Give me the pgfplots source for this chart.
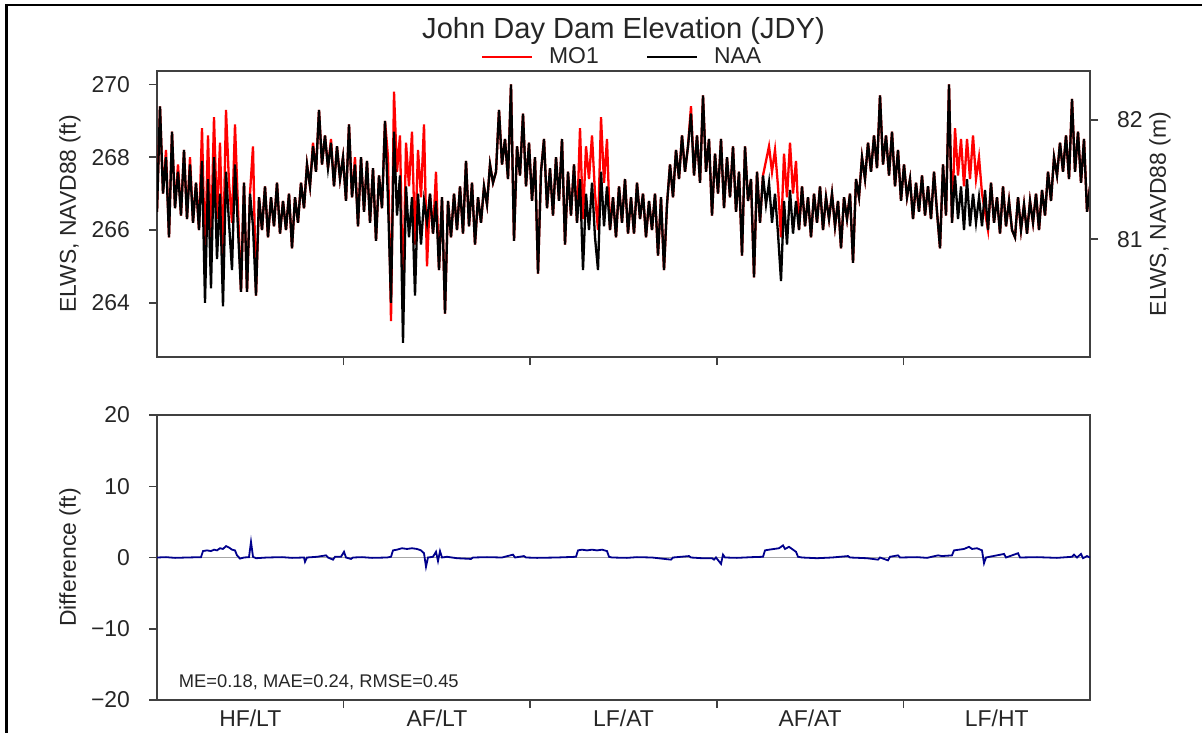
\documentclass[border=0pt]{standalone}
\usepackage{fontspec}
\setmainfont{Liberation Sans}
\usepackage{pgfplots}
\usepackage{pgfplotstable}
\pgfplotsset{compat=1.18}
\definecolor{txt}{RGB}{38,38,38}
\definecolor{axl}{RGB}{64,64,64}
\definecolor{diffc}{RGB}{0,0,140}

\pgfplotstableread{
r naa mo1
0 266.5 266.5
3 269.4 269.4
6 267.0 267.0
9 268.0 268.2
12 265.8 265.8
15 268.7 268.7
18 266.6 266.6
21 267.6 267.8
24 266.4 266.4
27 268.2 268.2
30 266.3 266.3
33 267.8 268.0
36 266.2 266.2
39 267.3 267.3
42 266.0 266.0
45 267.9 268.8
48 264.0 265.2
51 267.4 268.6
54 264.4 265.6
57 268.0 269.1
60 265.2 266.3
63 267.0 268.4
66 263.9 265.1
69 267.6 269.3
72 266.2 267.3
75 264.9 266.2
78 267.8 268.9
81 266.0 266.6
84 264.3 264.3
87 267.3 267.3
90 264.3 264.3
93 267.0 267.0
96 266.1 268.3
99 264.2 264.2
102 266.9 266.9
105 266.0 266.0
108 267.2 267.2
111 265.8 265.8
114 266.9 266.9
117 266.1 266.1
120 267.3 267.3
123 265.9 265.9
126 266.8 266.8
129 266.0 266.0
132 267.0 267.0
135 265.5 265.5
138 266.9 266.9
141 266.2 266.2
144 267.3 267.3
147 266.6 266.6
150 267.8 267.8
153 267.2 267.2
156 268.3 268.4
159 267.6 267.6
162 269.3 269.3
165 267.8 267.8
168 268.6 268.6
171 267.7 267.7
174 268.4 268.5
177 267.2 267.2
180 268.3 268.3
183 267.4 267.4
186 268.0 268.0
189 266.8 266.8
192 268.9 268.9
195 266.9 266.9
198 267.8 268.0
201 266.1 266.1
204 268.0 268.0
207 266.5 266.5
210 267.9 267.9
213 266.2 266.2
216 267.7 267.7
219 265.7 265.7
222 267.5 267.5
225 266.6 266.6
228 269.0 269.0
231 266.8 268.0
234 264.0 263.5
237 268.7 269.8
240 266.4 267.6
243 267.5 268.6
246 262.9 264.0
249 267.2 268.4
252 265.8 267.2
255 266.9 268.7
258 264.2 265.6
261 267.0 268.2
264 265.6 266.9
267 266.8 268.9
270 266.2 265.0
273 267.0 267.0
276 265.9 265.9
279 266.8 267.6
282 264.9 264.9
285 266.9 266.9
288 263.7 263.7
291 266.8 266.8
294 265.8 265.8
297 267.0 267.0
300 266.0 266.0
303 267.2 267.2
306 265.9 265.9
309 267.9 267.9
312 266.1 266.1
315 267.3 267.3
318 265.6 265.6
321 266.9 266.9
324 266.2 266.2
327 267.2 267.2
330 266.7 266.7
333 267.8 267.8
336 267.3 267.3
339 267.6 267.6
342 269.3 269.3
345 267.8 267.8
348 268.5 268.5
351 267.4 267.4
354 270.0 270.0
357 265.7 265.7
360 268.3 268.3
363 267.5 267.5
366 269.2 269.2
369 267.2 267.2
372 268.4 268.4
375 266.8 266.8
378 268.0 268.0
381 264.8 264.8
384 267.6 267.6
387 268.5 268.5
390 266.6 266.6
393 267.7 267.7
396 266.4 266.4
399 268.0 268.0
402 266.8 266.8
405 268.5 268.5
408 265.6 265.6
411 267.6 267.6
414 266.4 266.4
417 267.8 267.8
420 266.2 266.2
423 267.4 268.8
426 264.9 266.3
429 267.0 268.3
432 266.0 267.4
435 267.3 268.6
438 265.8 267.0
441 264.9 266.0
444 267.6 269.1
447 266.1 267.3
450 267.2 268.5
453 266.0 266.0
456 266.9 266.9
459 265.8 265.8
462 267.2 267.2
465 266.2 266.2
468 267.4 267.4
471 265.9 265.9
474 266.9 266.9
477 265.9 265.9
480 267.3 267.3
483 266.3 266.3
486 267.0 267.0
489 265.8 265.8
492 266.8 266.8
495 266.0 266.0
498 267.0 267.0
501 265.3 265.3
504 266.9 266.9
507 264.9 264.9
510 266.7 266.7
513 267.8 267.8
516 266.9 266.9
519 268.2 268.2
522 267.4 267.4
525 268.6 268.6
528 267.6 267.6
531 268.3 268.3
534 269.2 269.4
537 267.5 267.5
540 268.6 268.6
543 267.3 267.3
546 269.7 269.7
549 267.6 267.6
552 268.5 268.5
555 266.4 266.4
558 268.1 268.1
561 267.0 267.0
564 268.5 268.5
567 266.6 266.6
570 268.0 268.0
573 266.9 266.9
576 268.3 268.3
579 266.5 266.5
582 267.6 267.6
585 265.3 265.3
588 268.3 268.3
591 266.8 266.8
594 267.4 267.4
597 264.7 264.7
600 267.6 267.6
603 266.2 266.2
606 267.5 267.5
609 266.7 267.9
612 267.3 268.3
615 266.2 267.6
618 267.0 268.2
621 265.9 267.2
624 264.6 265.8
627 266.8 268.1
630 265.6 266.9
633 267.1 268.4
636 265.9 267.0
639 266.8 267.9
642 266.0 266.0
645 267.2 267.2
648 266.1 266.1
651 266.9 266.9
654 265.8 265.8
657 267.0 267.0
660 266.2 266.2
663 267.2 267.2
666 266.0 266.0
669 266.9 266.9
672 266.3 266.3
675 267.0 267.0
678 266.1 266.1
681 266.8 266.8
684 265.5 265.5
687 266.9 266.9
690 266.3 266.3
693 267.0 267.0
696 265.1 265.1
699 267.4 267.4
702 266.9 266.9
705 268.0 268.0
708 267.4 267.4
711 268.4 268.4
714 267.6 267.6
717 268.6 268.6
720 267.7 267.7
723 269.7 269.7
726 267.8 267.8
729 268.6 268.6
732 267.5 267.5
735 268.7 268.7
738 267.2 267.2
741 268.2 268.2
744 266.8 266.8
747 267.8 267.8
750 266.9 266.9
753 267.4 267.4
756 266.3 266.3
759 267.3 267.3
762 266.5 266.5
765 267.5 267.5
768 266.4 266.4
771 267.2 267.2
774 266.3 266.3
777 267.6 267.6
780 266.5 266.5
783 265.5 265.5
786 267.8 267.8
789 266.4 266.4
792 270.0 270.0
795 266.2 266.2
798 267.5 268.8
801 266.3 267.5
804 267.2 268.5
807 266.0 267.2
810 267.4 268.5
813 266.1 267.4
816 267.0 268.6
819 266.2 267.4
822 266.9 268.0
825 266.1 267.0
828 267.1 266.5
831 266.0 266.0
834 267.3 267.3
837 266.2 266.2
840 266.9 266.9
843 265.9 265.9
846 267.2 267.2
849 266.1 266.1
852 266.8 266.8
855 266.0 266.0
858 265.8 265.8
861 266.9 266.9
864 266.0 266.0
867 266.7 266.7
870 265.9 265.9
873 266.8 266.8
876 266.2 266.2
879 267.0 267.0
882 266.0 266.0
885 267.1 267.1
888 266.4 266.4
891 267.6 267.6
894 266.8 266.8
897 268.0 268.0
900 267.5 267.5
903 268.4 268.4
906 267.6 267.6
909 268.6 268.6
912 267.4 267.4
915 269.6 269.6
918 267.6 267.6
921 268.7 268.7
924 267.3 267.3
927 268.5 268.5
930 266.5 266.5
933 267.2 267.2
}\elev

\pgfplotstableread{
r d
0 0
9 0.05
18 -0.05
30 0
44 0.05
46 0.9
50 1.0
54 0.9
57 1.1
60 1.0
63 1.3
66 1.2
69 1.6
72 1.4
75 1.1
78 1.0
80 0.3
83 -0.15
87 0
92 0.05
94 2.2
96 0.1
99 -0.1
110 0
125 0.05
135 -0.05
147 0
148 -0.6
150 0
160 0.1
169 0.3
171 0
176 -0.3
178 0.1
184 0.1
187 0.8
189 0
194 -0.2
196 0
205 0.05
215 -0.05
230 0
234 0.1
236 1.0
240 1.1
245 1.3
250 1.2
255 1.3
260 1.2
264 1.0
267 0.6
269 -1.3
271 0
276 0.1
279 0.8
281 -0.5
283 0.9
285 0
290 0.1
300 -0.1
314 -0.2
316 0
330 0.05
345 0
356 0.4
358 0
367 0.2
369 0
380 -0.05
400 0
419 0.1
421 1.0
425 1.1
430 1.0
435 1.1
440 1.0
445 1.1
450 0.9
452 0.1
455 0
470 -0.05
480 0.05
495 0
514 -0.3
516 0
532 0.2
534 0
545 -0.1
555 -0.1
557 -0.3
559 0
564 -0.9
566 0.4
568 0
580 -0.05
595 0.05
606 0.1
608 1.0
612 1.1
617 1.2
622 1.3
626 1.7
628 1.2
632 1.5
636 1.1
639 0.8
641 0.1
645 0
660 -0.1
675 0
691 0.2
693 0
710 -0.1
721 -0.3
723 0
731 -0.4
733 0.1
741 0.3
743 0
760 0.05
770 -0.05
781 0.3
785 0.2
795 0.3
797 1.0
802 1.1
807 1.2
812 1.5
815 1.2
820 1.3
825 1.0
827 -0.8
829 0
847 0.5
849 0
861 0.6
863 0
880 0.05
900 -0.05
915 0.1
917 0.4
920 0
924 0.5
926 -0.1
930 0.2
933 0
}\diffdat

\pgfplotsset{
  base/.style={
    scale only axis, width=466.5bp,
    xmin=0, xmax=933,
    axis line style={axl, line width=0.75bp},
    tick style={axl, line width=0.75bp},
    tick align=outside,
    major tick length=4bp,
    tick label style={font=\fontsize{11.5}{13}\selectfont, text=txt},
    label style={font=\fontsize{11.5}{13}\selectfont, text=txt},
    /pgf/number format/assume math mode=true,
  }
}

\begin{document}
\begin{tikzpicture}
\useasboundingbox (0,0) rectangle (601bp,-366.5bp);
\draw[line width=1.3bp,black] (3.25bp,-367bp) -- (3.25bp,-2.5bp) -- (602bp,-2.5bp);

\begin{axis}[base, at={(78.5bp,-35.5bp)}, anchor=north west, height=143bp,
  ymin=262.51, ymax=270.37,
  ytick={264,266,268,270},
  yticklabel style={xshift=-6bp},
  xtick={186.6,373.2,559.8,746.4}, xticklabels={},
  tick pos=left,
  ylabel={ELWS, NAVD88 (ft)},
  ylabel style={at={(axis description cs:-0.0933,0.5)}, anchor=center},
  title={John Day Dam Elevation (JDY)},
  title style={at={(0.5,1)}, anchor=center, yshift=14bp, font=\fontsize{14.6}{16}\selectfont, text=txt},
  legend style={at={(0.5,1)}, anchor=center, yshift=7bp, legend columns=2, draw=none, fill=none,
    font=\fontsize{11.5}{13}\selectfont, text=txt,
    /tikz/every odd column/.append style={column sep=6bp},
    /tikz/every even column/.append style={column sep=22bp}},
  legend image code/.code={\draw[#1,line width=0.7bp] (0bp,0bp) -- (25bp,0bp);},
]
\addplot[red, line width=1.15bp] table[x=r,y=mo1]{\elev};
\addlegendentry{MO1}
\addplot[black, line width=1.15bp] table[x=r,y=naa]{\elev};
\addlegendentry{NAA}
\end{axis}

\begin{axis}[base, at={(78.5bp,-35.5bp)}, anchor=north west, height=143bp,
  ymin=80.013, ymax=82.409, ytick={81,82},
  yticklabel style={xshift=6bp},
  axis y line*=right, axis x line=none,
  ylabel={ELWS, NAVD88 (m)},
  ylabel style={at={(axis description cs:1.075,0.5)}, anchor=center},
]
\addplot[draw=none] coordinates {(0,81)};
\end{axis}

\begin{axis}[base, at={(78.5bp,-207.5bp)}, anchor=north west, height=142.5bp,
  ymin=-20, ymax=20, ytick={-20,-10,0,10,20}, yticklabels={−20,−10,0,10,20},
  yticklabel style={xshift=-6bp},
  xtick={186.6,373.2,559.8,746.4}, xticklabels={},
  extra x ticks={93.3,279.9,466.5,653.1,839.7},
  extra x tick labels={HF/LT,AF/LT,LF/AT,AF/AT,LF/HT},
  extra x tick style={major tick length=0pt, xticklabel style={yshift=-1.5bp}},
  tick pos=left,
  ylabel={Difference (ft)},
  ylabel style={at={(axis description cs:-0.0933,0.5)}, anchor=center},
]
\addplot[gray!70, line width=0.6bp] coordinates {(0,0) (933,0)};
\addplot[diffc, line width=0.9bp] table[x=r,y=d]{\diffdat};
\node[anchor=west, font=\fontsize{9.2}{11}\selectfont, text=txt] at (axis description cs:0.016,0.063) {ME=0.18, MAE=0.24, RMSE=0.45};
\end{axis}
\end{tikzpicture}
\end{document}
